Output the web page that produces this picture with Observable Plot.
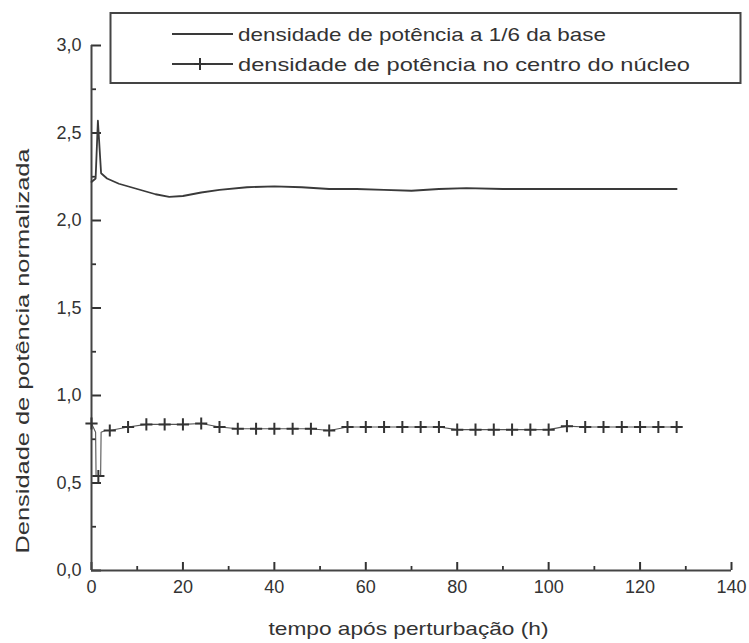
<!DOCTYPE html>
<html><head><meta charset="utf-8">
<script src="https://cdn.jsdelivr.net/npm/d3@7"></script>
<script src="https://cdn.jsdelivr.net/npm/@observablehq/plot@0.6"></script>
<style>
body{margin:0;background:#fff;}
#wrap{position:relative;width:749px;height:643px;font-family:"Liberation Sans",Arial,sans-serif;}
#overlay{position:absolute;left:0;top:0;pointer-events:none;}
</style></head><body><div id="wrap"><div id="chart"></div></div>
<script>
// Series 1: power density at 1/6 of the base (solid line)
const baseT = [0, 0.9, 1.4, 2.1, 3.4, 6, 10, 14, 17, 20, 24, 28, 34, 40, 46, 52, 58, 64, 70, 76, 82, 90, 100, 110, 120, 128];
const baseV = [2.22, 2.24, 2.57, 2.27, 2.24, 2.21, 2.18, 2.15, 2.135, 2.14, 2.16, 2.175, 2.19, 2.195, 2.19, 2.18, 2.18, 2.175, 2.17, 2.18, 2.185, 2.18, 2.18, 2.18, 2.18, 2.18];
// Series 2: power density at core centre (line with + markers)
const dipT = [0.9, 1.0, 2.0, 2.1, 3.0];
const dipV = [0.79, 0.54, 0.54, 0.79, 0.80];
const centerT = [0, 4, 8, 12, 16, 20, 24, 28, 32, 36, 40, 44, 48, 52, 56, 60, 64, 68, 72, 76, 80, 84, 88, 92, 96, 100, 104, 108, 112, 116, 120, 124, 128];
const centerV = [0.84, 0.80, 0.82, 0.835, 0.835, 0.835, 0.84, 0.82, 0.81, 0.81, 0.81, 0.81, 0.81, 0.80, 0.82, 0.82, 0.82, 0.82, 0.82, 0.82, 0.805, 0.805, 0.805, 0.805, 0.805, 0.805, 0.825, 0.82, 0.82, 0.82, 0.82, 0.82, 0.82];
const dipMarkerT = [1.5];
const dipMarkerV = [0.54];

const xMajorTicks = [0, 20, 40, 60, 80, 100, 120, 140];
const xMinorTicks = [10, 30, 50, 70, 90, 110, 130];
const yMajorTicks = [0, 0.5, 1.0, 1.5, 2.0, 2.5, 3.0];
const yMinorTicks = [0.25, 0.75, 1.25, 1.75, 2.25, 2.75];
const xTitle = "tempo após perturbação (h)";
const yTitle = "Densidade de potência normalizada";
const legendLabels = ["densidade de potência a 1/6 da base", "densidade de potência no centro do núcleo"];

const base = baseT.map((t, i) => ({t, v: baseV[i]}));
const markers = centerT.map((t, i) => ({t, v: centerV[i]}))
  .concat(dipMarkerT.map((t, i) => ({t, v: dipMarkerV[i]})));
const centerLine = centerT.map((t, i) => ({t, v: centerV[i]}))
  .concat(dipT.map((t, i) => ({t, v: dipV[i]})))
  .sort((a, b) => a.t - b.t);

const fmt = d => d.toFixed(1).replace(".", ",");
const ink = "#333";
const W = 749, H = 643, ML = 91, MR = 18, MT = 45, MB = 73;

const chart = Plot.plot({
  width: W, height: H,
  marginLeft: ML, marginRight: MR, marginTop: MT, marginBottom: MB,
  x: {domain: [0, 140]},
  y: {domain: [0, 3]},
  style: {fontFamily: "Liberation Sans, Arial, sans-serif", fontSize: "18px", color: ink, background: "#fff"},
  marks: [
    Plot.axisY(yMajorTicks, {tickSize: 0, tickPadding: 10, tickFormat: fmt, fontSize: 18, label: null}),
    Plot.axisX(xMajorTicks, {tickSize: 0, tickPadding: 10, fontSize: 18, label: null}),
    // inward ticks: axis ticks shifted across the axis line
    Plot.axisY(yMajorTicks, {tickSize: 10, dx: 10, stroke: "#333", strokeWidth: 2, fill: null, label: null}),
    Plot.axisY(yMinorTicks, {tickSize: 5, dx: 5, stroke: "#333", strokeWidth: 1.8, fill: null, label: null}),
    Plot.axisX(xMajorTicks, {tickSize: 8, dy: -8, stroke: "#333", strokeWidth: 2, fill: null, label: null}),
    Plot.axisX(xMinorTicks, {tickSize: 4, dy: -4, stroke: "#333", strokeWidth: 1.8, fill: null, label: null}),
    Plot.ruleX([0], {stroke: "#444", strokeWidth: 2}),
    Plot.ruleY([0], {stroke: "#444", strokeWidth: 2}),
    Plot.line(base, {x: "t", y: "v", stroke: "#3a3a3a", strokeWidth: 1.8}),
    Plot.line(centerLine, {x: "t", y: "v", stroke: "#555", strokeWidth: 1.1}),
    Plot.dot(markers, {x: "t", y: "v", symbol: "plus", r: 4, stroke: ink, strokeWidth: 2}),
    Plot.text([xTitle], {frameAnchor: "bottom", dx: -3, dy: 58, lineAnchor: "middle", fontSize: 19, fill: ink, className: "xtitle"}),
    Plot.text([yTitle], {frameAnchor: "left", textAnchor: "middle", rotate: -90, dx: -69, dy: 43, fontSize: 19, fill: ink, className: "ytitle"})
  ]
});
const stretch = (sel, len) => chart.querySelectorAll(sel + " text").forEach(t => {
  t.setAttribute("textLength", len); t.setAttribute("lengthAdjust", "spacingAndGlyphs");
});
stretch(".xtitle", 280);
stretch(".ytitle", 405);
document.getElementById("chart").appendChild(chart);

// Legend overlay
const ns = "http://www.w3.org/2000/svg";
const ov = document.createElementNS(ns, "svg");
ov.setAttribute("id", "overlay");
ov.setAttribute("width", W); ov.setAttribute("height", H);
const el = (name, attrs) => { const e = document.createElementNS(ns, name); for (const k in attrs) e.setAttribute(k, attrs[k]); ov.appendChild(e); return e; };
el("rect", {x: 110.5, y: 13, width: 630, height: 70, fill: "#fff", stroke: "#444", "stroke-width": 2});
const rows = [34, 64];
const lens = [368, 452];
rows.forEach((y, i) => {
  el("line", {x1: 172, x2: 233, y1: y, y2: y, stroke: "#3a3a3a", "stroke-width": 1.8});
  if (i === 1) {
    el("line", {x1: 194, x2: 206, y1: y, y2: y, stroke: ink, "stroke-width": 2});
    el("line", {x1: 200, x2: 200, y1: y - 6, y2: y + 6, stroke: ink, "stroke-width": 2});
  }
  const t = el("text", {x: 238, y: y + 6.5, "font-size": 18.5, fill: ink, "font-family": "Liberation Sans, Arial, sans-serif", textLength: lens[i], lengthAdjust: "spacingAndGlyphs"});
  t.textContent = legendLabels[i];
});
document.getElementById("wrap").appendChild(ov);
</script>
</body></html>
